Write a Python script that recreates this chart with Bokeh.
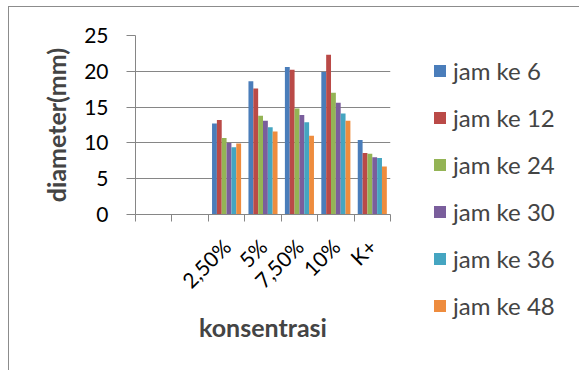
import math
from bokeh.plotting import figure
from bokeh.models import FixedTicker, Legend, LegendItem, ColumnDataSource
from bokeh.transform import dodge
from bokeh.embed import file_html
from bokeh.resources import INLINE

# ---- data ----
categories = ["", "", "2,50%", "5%", "7,50%", "10%", "K+"]
series_names = ["jam ke 6", "jam ke 12", "jam ke 24", "jam ke 30", "jam ke 36", "jam ke 48"]
jam_6 = [None, None, 12.7, 18.6, 20.6, 19.9, 10.4]
jam_12 = [None, None, 13.2, 17.6, 20.2, 22.3, 8.6]
jam_24 = [None, None, 10.7, 13.8, 14.8, 17.0, 8.5]
jam_30 = [None, None, 10.0, 13.1, 13.9, 15.6, 8.0]
jam_36 = [None, None, 9.4, 12.2, 12.9, 14.1, 7.9]
jam_48 = [None, None, 9.9, 11.6, 11.0, 13.1, 6.7]
y_ticks = [0, 5, 10, 15, 20, 25]

series = [jam_6, jam_12, jam_24, jam_30, jam_36, jam_48]
colors = ["#4A7DBA", "#BA4A47", "#94B455", "#7A5E9C", "#45A5C1", "#EE8C3E"]

FONT = "Lato"

centers = [i + 0.5 for i in range(len(categories))]
data = {"x": centers}
for name, vals in zip(series_names, series):
    data[name] = [float("nan") if v is None else v for v in vals]
src = ColumnDataSource(data)

p = figure(frame_width=255, frame_height=179, output_backend="svg", toolbar_location=None,
           x_range=(0, len(categories)), y_range=(0, 25),
           min_border_left=126, min_border_right=189, min_border_top=28,
           min_border_bottom=156)
p.margin = (6, 0, 0, 8)
p.styles = {"border-top": "1px solid #8C8C8C", "border-left": "1px solid #8C8C8C"}
p.outline_line_color = None
p.background_fill_color = "white"
p.border_fill_color = "white"

bw = 0.133
items = []
for i, (name, col) in enumerate(zip(series_names, colors)):
    r = p.vbar(x=dodge("x", (i - 2.5) * bw), top=name, width=bw, source=src,
               fill_color=col, line_color=None)
    items.append(LegendItem(label=name, renderers=[r]))

# x axis
xa = p.xaxis[0]
xa.ticker = FixedTicker(ticks=centers, minor_ticks=list(range(len(categories) + 1)))
xa.major_label_overrides = {c: lab for c, lab in zip(centers, categories)}
xa.major_label_orientation = math.pi / 4
xa.major_tick_out = 0
xa.major_tick_in = 0
xa.minor_tick_out = 7
xa.minor_tick_in = 0
xa.minor_tick_line_color = "#868686"
xa.axis_line_color = "#868686"
xa.major_label_text_font = FONT
xa.major_label_text_font_size = "21px"
xa.major_label_text_color = "black"
xa.major_label_standoff = 21
xa.axis_label = "konsentrasi"
xa.axis_label_text_font = FONT
xa.axis_label_text_font_style = "bold"
xa.axis_label_text_font_size = "25px"
xa.axis_label_standoff = 8

# y axis
ya = p.yaxis[0]
ya.ticker = FixedTicker(ticks=y_ticks)
ya.major_tick_out = 9
ya.major_tick_in = 0
ya.minor_tick_line_color = None
ya.major_tick_line_color = "#868686"
ya.axis_line_color = "#868686"
ya.major_label_text_font = FONT
ya.major_label_text_font_size = "21px"
ya.major_label_text_color = "black"
ya.major_label_standoff = 18
ya.axis_label = "diameter(mm)"
ya.axis_label_text_font = FONT
ya.axis_label_text_font_style = "bold"
ya.axis_label_text_font_size = "25px"
ya.axis_label_standoff = 10

p.xgrid.grid_line_color = None
p.ygrid.grid_line_color = "#868686"
p.ygrid.ticker = FixedTicker(ticks=y_ticks)

legend = Legend(items=items, location=(42, -106), orientation="vertical",
                glyph_width=15, glyph_height=15, label_height=23, spacing=18,
                padding=0, margin=0, label_standoff=6,
                label_text_font=FONT, label_text_font_size="24px",
                border_line_color=None, background_fill_alpha=0)
p.add_layout(legend, "right")

open("out.html", "w").write(file_html(p, INLINE))
